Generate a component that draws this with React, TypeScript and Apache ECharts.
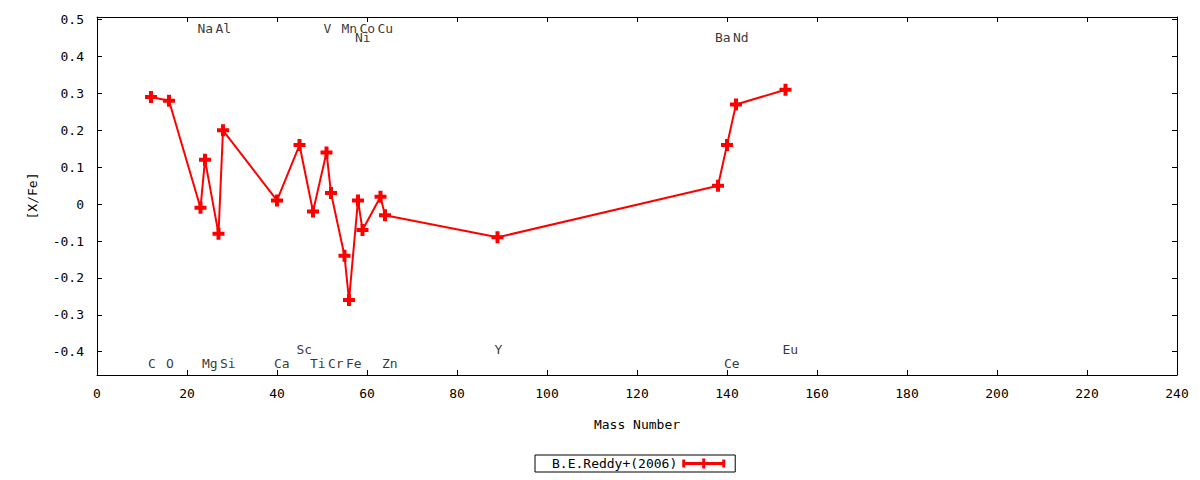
import React, { useEffect, useRef } from 'react';
import * as echarts from 'echarts';

// element symbols, mass numbers and [X/Fe] values (B.E.Reddy+ 2006)
const elements = ['C', 'O', 'Na', 'Mg', 'Al', 'Si', 'Ca', 'Sc', 'Ti', 'V', 'Cr', 'Mn', 'Fe', 'Ni', 'Co', 'Cu', 'Zn', 'Y', 'Ba', 'Ce', 'Nd', 'Eu'];
const massNumbers = [12, 16, 23, 24, 27, 28, 40, 45, 48, 51, 52, 55, 56, 58, 59, 63, 64, 89, 138, 140, 142, 153];
const xFe = [0.29, 0.28, -0.01, 0.12, -0.08, 0.2, 0.01, 0.16, -0.02, 0.14, 0.03, -0.14, -0.26, 0.01, -0.07, 0.02, -0.03, -0.09, 0.05, 0.16, 0.27, 0.31];

// height of each element label in plot units
const labelY = [-0.432, -0.432, 0.476, -0.432, 0.476, -0.432, -0.432, -0.395, -0.432, 0.476, -0.432, 0.476, -0.432, 0.45, 0.476, 0.476, -0.432, -0.395, 0.45, -0.432, 0.45, -0.395];

const seriesName = 'B.E.Reddy+(2006)';
const FONT = 'DejaVu Sans Mono';

const plusPath = 'path://M4,0H8V4H12V8H8V12H4V8H0V4H4Z';
const legendIcon = 'path://M0,1H3V3.5H20V0H23V3.5H40V1H43V9H40V6.5H23V10H20V6.5H3V9H0Z';

const App: React.FC = () => {
    const chartRef = useRef<HTMLDivElement>(null);

    useEffect(() => {
        const chartDom = chartRef.current!;
        const myChart = echarts.init(chartDom, undefined, { renderer: 'svg' });

        const yLabel = (v: number) => {
            const r = Math.round(v * 10) / 10;
            if (Math.abs(v - r) > 1e-6) return '';
            return String(r === 0 ? 0 : r);
        };

        const xBase = {
            type: 'value' as const,
            min: 0,
            max: 240,
            interval: 20,
            splitLine: { show: false },
            axisLine: { show: true, onZero: false, lineStyle: { color: '#000', width: 1 } },
            axisTick: { show: true, inside: true, length: 5, lineStyle: { color: '#000' } },
        };
        const yBase = {
            type: 'value' as const,
            min: -0.463,
            max: 0.507,
            splitNumber: 10,
            splitLine: { show: false },
            axisLine: { show: true, onZero: false, lineStyle: { color: '#000', width: 1 } },
            axisTick: { show: true, inside: true, length: 5, lineStyle: { color: '#000' } },
        };

        const option: echarts.EChartsOption = {
            animation: false,
            backgroundColor: '#fff',
            textStyle: { fontFamily: FONT },
            grid: { left: 97, right: 23, top: 17, bottom: 105, containLabel: false },
            legend: {
                data: [seriesName],
                left: 535,
                top: 455,
                align: 'right',
                icon: legendIcon,
                itemWidth: 43,
                itemHeight: 10,
                padding: [2, 10, 2, 17],
                borderColor: '#000',
                borderWidth: 1,
                borderRadius: 0,
                textStyle: { fontFamily: FONT, fontSize: 13, color: '#000' },
            },
            xAxis: [
                {
                    ...xBase,
                    position: 'bottom',
                    name: 'Mass Number',
                    nameLocation: 'middle',
                    nameGap: 43,
                    nameTextStyle: { fontFamily: FONT, fontSize: 13, color: '#000' },
                    axisLabel: { margin: 12, fontFamily: FONT, fontSize: 13, color: '#000' },
                },
                { ...xBase, position: 'top', axisLabel: { show: false } },
            ],
            yAxis: [
                {
                    ...yBase,
                    position: 'left',
                    name: '[X/Fe]',
                    nameLocation: 'middle',
                    nameGap: 58,
                    nameRotate: 90,
                    nameTextStyle: { fontFamily: FONT, fontSize: 13, color: '#000' },
                    axisLabel: {
                        margin: 13,
                        fontFamily: FONT,
                        fontSize: 13,
                        color: '#000',
                        showMinLabel: false,
                        showMaxLabel: false,
                        formatter: yLabel,
                    },
                },
                { ...yBase, position: 'right', axisLabel: { show: false } },
            ],
            series: [
                {
                    name: seriesName,
                    type: 'line',
                    xAxisIndex: 0,
                    yAxisIndex: 0,
                    data: massNumbers.map((m, i) => [m, xFe[i]]),
                    symbol: plusPath,
                    symbolSize: 12,
                    showAllSymbol: true,
                    lineStyle: { color: '#ff0000', width: 2 },
                    itemStyle: { color: '#ff0000' },
                    z: 3,
                },
                {
                    name: 'labels',
                    type: 'scatter',
                    xAxisIndex: 0,
                    yAxisIndex: 0,
                    symbol: 'circle',
                    symbolSize: 0.1,
                    itemStyle: { color: 'rgba(0,0,0,0)' },
                    silent: true,
                    data: massNumbers.map((m, i) => ({ name: elements[i], value: [m, labelY[i]] })),
                    label: {
                        show: true,
                        position: [-3, 0],
                        align: 'left',
                        verticalAlign: 'middle',
                        formatter: '{b}',
                        fontFamily: FONT,
                        fontSize: 13,
                        color: '#000',
                    },
                    z: 2,
                },
            ],
        };

        myChart.setOption(option);

        return () => {
            myChart.dispose();
        };
    }, []);

    return <div ref={chartRef} style={{ position: 'fixed', left: 0, top: 0, width: 1200, height: 480 }} />;
};

export default App;
